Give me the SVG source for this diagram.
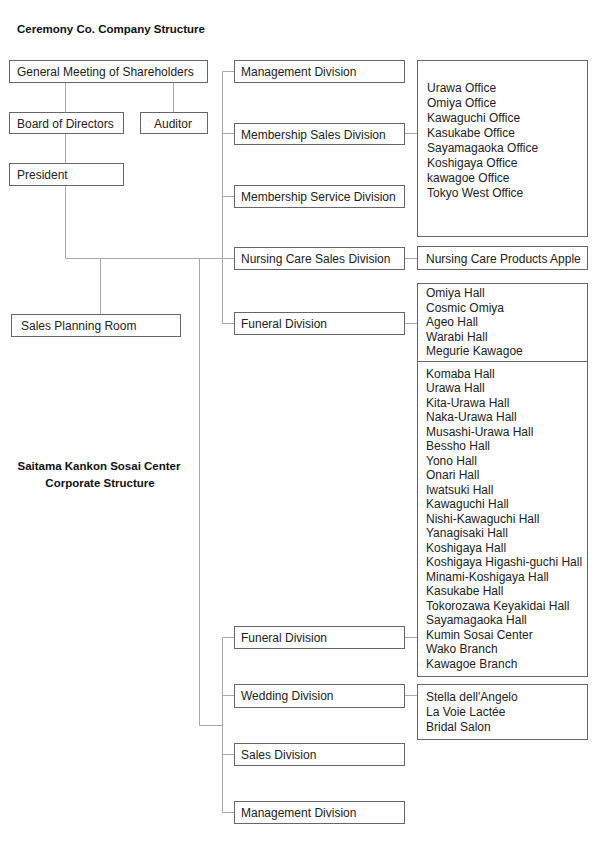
<svg xmlns="http://www.w3.org/2000/svg" width="595" height="842" viewBox="0 0 595 842">
<style>
.bx{fill:#fff;stroke:#666;stroke-width:1}
.t{font-family:"Liberation Sans",Arial,sans-serif;font-size:12px;fill:#222}
.h{font-family:"Liberation Sans",Arial,sans-serif;font-size:11.5px;font-weight:bold;fill:#111}
.c{fill:none;stroke:#aaa;stroke-width:1}
</style>
<rect width="595" height="842" fill="#fff"/>
<text class="h" x="17" y="33">Ceremony Co. Company Structure</text>
<text class="h" x="99" y="470" text-anchor="middle">Saitama Kankon Sosai Center</text>
<text class="h" x="100" y="487" text-anchor="middle">Corporate Structure</text>
<g id="connectors">
<path class="c" d="M65.5 82 V112 M65.5 133 V163 M173.5 82 V112"/>
<path class="c" d="M65.5 185 V258.5 H234"/>
<path class="c" d="M100.5 258.5 V314"/>
<path class="c" d="M199.5 258.5 V725.5 H222.5"/>
<path class="c" d="M234 71.5 H222.5 V323.5 H234 M222.5 133.5 H234 M222.5 196.5 H234"/>
<path class="c" d="M234 637.5 H222.5 V812.5 H234 M222.5 695.5 H234 M222.5 754.5 H234"/>
<path class="c" d="M404 133.5 H417 M404 258.5 H417 M404 323.5 H417 M404 637.5 H417 M404 695.5 H417"/>
</g>
<g id="gm"><rect class="bx" x="9.5" y="60.5" width="198" height="22"/><text class="t" x="17" y="76">General Meeting of Shareholders</text></g>
<g id="bod"><rect class="bx" x="9.5" y="112.5" width="114" height="21"/><text class="t" x="17" y="127.5">Board of Directors</text></g>
<g id="auditor"><rect class="bx" x="140.5" y="112.5" width="67" height="21"/><text class="t" x="154" y="127.5">Auditor</text></g>
<g id="president"><rect class="bx" x="9.5" y="163.5" width="114" height="22"/><text class="t" x="17" y="178.5">President</text></g>
<g id="spr"><rect class="bx" x="11.5" y="314.5" width="169" height="22"/><text class="t" x="21" y="329.5">Sales Planning Room</text></g>
<g id="md1"><rect class="bx" x="234.5" y="60.5" width="170" height="22"/><text class="t" x="241" y="76">Management Division</text></g>
<g id="msd"><rect class="bx" x="234.5" y="123.5" width="170" height="21"/><text class="t" x="241" y="138.5">Membership Sales Division</text></g>
<g id="mserv"><rect class="bx" x="234.5" y="185.5" width="170" height="22"/><text class="t" x="241" y="200.5">Membership Service Division</text></g>
<g id="ncs"><rect class="bx" x="234.5" y="247.5" width="170" height="22"/><text class="t" x="241" y="262.5">Nursing Care Sales Division</text></g>
<g id="fd1"><rect class="bx" x="234.5" y="312.5" width="170" height="22"/><text class="t" x="241" y="327.5">Funeral Division</text></g>
<g id="fd2"><rect class="bx" x="234.5" y="626.5" width="170" height="22"/><text class="t" x="241" y="641.5">Funeral Division</text></g>
<g id="wd"><rect class="bx" x="234.5" y="684.5" width="170" height="23"/><text class="t" x="241" y="700">Wedding Division</text></g>
<g id="sd"><rect class="bx" x="234.5" y="743.5" width="170" height="22"/><text class="t" x="241" y="758.5">Sales Division</text></g>
<g id="md2"><rect class="bx" x="234.5" y="801.5" width="170" height="22"/><text class="t" x="241" y="816.5">Management Division</text></g>
<g id="offices"><rect class="bx" x="417.5" y="60.5" width="170" height="176"/>
<text class="t" x="427"><tspan x="427" y="91.5">Urawa Office</tspan><tspan x="427" y="106.5">Omiya Office</tspan><tspan x="427" y="121.5">Kawaguchi Office</tspan><tspan x="427" y="136.5">Kasukabe Office</tspan><tspan x="427" y="151.5">Sayamagaoka Office</tspan><tspan x="427" y="166.5">Koshigaya Office</tspan><tspan x="427" y="181.5">kawagoe Office</tspan><tspan x="427" y="196.5">Tokyo West Office</tspan></text></g>
<g id="ncpa"><rect class="bx" x="417.5" y="246.5" width="170" height="23"/><text class="t" x="426" y="262.5">Nursing Care Products Apple</text></g>
<g id="halls"><rect class="bx" x="417.5" y="283.5" width="170" height="393"/><line x1="417.5" y1="361.5" x2="587.5" y2="361.5" stroke="#666" stroke-width="1"/>
<text class="t"><tspan x="426" y="296.5">Omiya Hall</tspan><tspan x="426" y="311.5">Cosmic Omiya</tspan><tspan x="426" y="326">Ageo Hall</tspan><tspan x="426" y="340.5">Warabi Hall</tspan><tspan x="426" y="355">Megurie Kawagoe</tspan>
<tspan x="426" y="377.5">Komaba Hall</tspan><tspan x="426" y="392">Urawa Hall</tspan><tspan x="426" y="406.5">Kita-Urawa Hall</tspan><tspan x="426" y="421">Naka-Urawa Hall</tspan><tspan x="426" y="435.5">Musashi-Urawa Hall</tspan><tspan x="426" y="450">Bessho Hall</tspan><tspan x="426" y="464.5">Yono Hall</tspan><tspan x="426" y="479">Onari Hall</tspan><tspan x="426" y="493.5">Iwatsuki Hall</tspan><tspan x="426" y="508">Kawaguchi Hall</tspan><tspan x="426" y="522.5">Nishi-Kawaguchi Hall</tspan><tspan x="426" y="537">Yanagisaki Hall</tspan><tspan x="426" y="551.5">Koshigaya Hall</tspan><tspan x="426" y="566">Koshigaya Higashi-guchi Hall</tspan><tspan x="426" y="580.5">Minami-Koshigaya Hall</tspan><tspan x="426" y="595">Kasukabe Hall</tspan><tspan x="426" y="609.5">Tokorozawa Keyakidai Hall</tspan><tspan x="426" y="624">Sayamagaoka Hall</tspan><tspan x="426" y="638.5">Kumin Sosai Center</tspan><tspan x="426" y="653">Wako Branch</tspan><tspan x="426" y="667.5">Kawagoe Branch</tspan></text></g>
<g id="wedding"><rect class="bx" x="417.5" y="684.5" width="170" height="55"/>
<text class="t"><tspan x="426" y="701">Stella dell'Angelo</tspan><tspan x="426" y="716">La Voie Lactée</tspan><tspan x="426" y="731">Bridal Salon</tspan></text></g>
</svg>
